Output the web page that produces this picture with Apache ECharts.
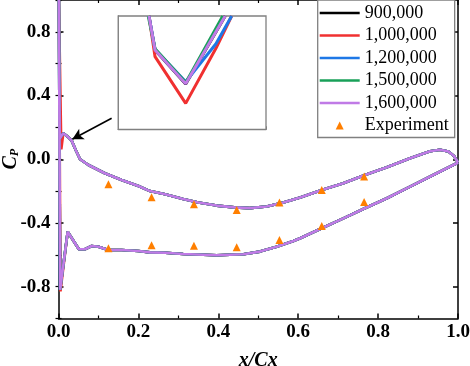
<!DOCTYPE html>
<html><head><meta charset="utf-8">
<script src="https://cdn.jsdelivr.net/npm/echarts@6/dist/echarts.min.js"></script>
<style>html,body{margin:0;padding:0;background:#fff}#c{width:470px;height:366px}</style>
</head><body><div id="c"></div>
<script>
const seriesNames = ['900,000', '1,000,000', '1,200,000', '1,500,000', '1,600,000'];
const expName = 'Experiment';
const seriesColors = ['#000000', '#F03030', '#1E78E6', '#18A058', '#C07AE6'];

// Main Cp curves (closed loop: pressure side TE->LE, then suction side LE->TE)
const upperX  = [1.0, 0.99, 0.976, 0.955, 0.93, 0.88, 0.822, 0.767, 0.713, 0.659, 0.605, 0.563, 0.521, 0.479, 0.44, 0.396, 0.35, 0.312, 0.267, 0.229, 0.2, 0.158, 0.116, 0.075, 0.054, 0.043, 0.033, 0.023, 0.012, 0.003, 0.001];
const upperCp = [-0.02, 0.02, 0.048, 0.06, 0.05, 0.006, -0.05, -0.099, -0.151, -0.193, -0.24, -0.272, -0.297, -0.307, -0.302, -0.291, -0.272, -0.25, -0.22, -0.2, -0.168, -0.13, -0.088, -0.036, 0.0, 0.058, 0.117, 0.142, 0.163, 0.13, 1.0];
const lowerX  = [0.004, 0.023, 0.051, 0.066, 0.083, 0.1, 0.125, 0.158, 0.2, 0.229, 0.267, 0.312, 0.396, 0.463, 0.504, 0.546, 0.588, 0.605, 0.659, 0.713, 0.767, 0.822, 0.88, 0.938, 0.997, 1.0];
const lowerCp = [-0.82, -0.455, -0.565, -0.565, -0.545, -0.549, -0.57, -0.57, -0.576, -0.585, -0.587, -0.595, -0.603, -0.597, -0.58, -0.549, -0.513, -0.496, -0.433, -0.371, -0.308, -0.245, -0.172, -0.099, -0.025, -0.02];
// 1,000,000 case differs slightly at the leading edge
const redLeX  = [0.007, 0.001, 0.005];
const redLeCp = [0.063, 1.0, -0.83];

// Experiment
const expX      = [0.125, 0.233, 0.339, 0.446, 0.553, 0.659, 0.765];
const expUpper  = [-0.157, -0.239, -0.283, -0.318, -0.272, -0.193, -0.109];
const expLower  = [-0.559, -0.54, -0.543, -0.553, -0.507, -0.419, -0.268];

// Inset (zoomed view, local units)
const insetBlackX = [1.66, 1.99, 3.65, 5.79];
const insetBlackY = [10, 7.0, 4.0, 10];
const insetRedX   = [1.66, 1.99, 3.65, 5.29, 6.14];
const insetRedY   = [10, 6.41, 2.29, 7.15, 10];
const insetBlueX  = [1.66, 1.99, 3.65, 5.29, 6.14];
const insetBlueY  = [10, 7.06, 4.2, 7.55, 10];
const insetGreenX = [1.62, 1.99, 3.65, 5.66];
const insetGreenY = [10, 7.1, 4.12, 10];
const insetPurpX  = [1.66, 1.99, 3.65, 5.79];
const insetPurpY  = [10, 7.0, 4.02, 10];

// Arrow annotation (data coords)
const arrowFrom = [0.133, 0.2575];
const arrowTo   = [0.0345, 0.126];

const xTicks = {min: 0, max: 1, interval: 0.2};
const yRange = {min: -1, max: 1, minorInterval: 0.2};
const yMajor = [-0.8, -0.4, 0.0, 0.4, 0.8];
const yLabels = ['-0.8', '-0.4', '0.0', '0.4', '0.8'];

function zip(xs, ys) { return xs.map((x, i) => [x, ys[i]]); }
const mainLoop = zip(upperX, upperCp).concat(zip(lowerX, lowerCp));
const redLoop = zip(upperX.slice(0, 29), upperCp.slice(0, 29))
  .concat(zip(redLeX, redLeCp))
  .concat(zip(lowerX.slice(1), lowerCp.slice(1)));
const loops = [mainLoop, redLoop, mainLoop, mainLoop, mainLoop];
const insets = [zip(insetBlackX, insetBlackY), zip(insetRedX, insetRedY), zip(insetBlueX, insetBlueY), zip(insetGreenX, insetGreenY), zip(insetPurpX, insetPurpY)];
const expData = zip(expX, expUpper).concat(zip(expX, expLower));

const FONT = 'Liberation Serif';
const axisLineStyle = {color: '#000', width: 1.5};
const series = [];
seriesNames.forEach((n, i) => {
  const s = {
    name: n, type: 'line', xAxisIndex: 0, yAxisIndex: 0,
    data: loops[i], symbol: 'none', showSymbol: false,
    lineStyle: {color: seriesColors[i], width: 2.6}, itemStyle: {color: seriesColors[i]},
    z: 3 + i, silent: true
  };
  if (i === 4) {
    s.markLine = {
      silent: true, symbol: ['none', 'arrow'], symbolSize: [9, 11],
      label: {show: false},
      lineStyle: {color: '#000', width: 1.6, type: 'solid'},
      data: [[{coord: arrowFrom}, {coord: arrowTo}]]
    };
  }
  series.push(s);
});
series.push({
  name: expName, type: 'line', xAxisIndex: 0, yAxisIndex: 0,
  data: expData, symbol: 'triangle', symbolSize: 8, showSymbol: true, showAllSymbol: true,
  lineStyle: {width: 0, opacity: 0}, itemStyle: {color: '#FF7F00'}, z: 10, silent: true
});
seriesNames.forEach((n, i) => {
  series.push({
    name: n, type: 'line', xAxisIndex: 2, yAxisIndex: 2,
    data: insets[i], symbol: 'none', showSymbol: false, clip: true,
    lineStyle: {color: seriesColors[i], width: 3}, z: 12 + i, silent: true
  });
});

const lineIcon = 'path://M0,0L40,0L40,2.6L0,2.6Z';
const legendData = seriesNames.map(n => ({name: n, icon: lineIcon})).concat([{name: expName}]);

function tickAxis(pos, grid, isX, lenMajor) {
  return {gridIndex: grid, type: 'value', position: pos,
    min: isX ? xTicks.min : yRange.min, max: isX ? xTicks.max : yRange.max,
    interval: isX ? xTicks.interval : yRange.minorInterval,
    axisLine: {show: false}, axisLabel: {show: false}, splitLine: {show: false},
    axisTick: {show: true, inside: true, length: lenMajor, lineStyle: {color: '#000', width: 1.2}}};
}

const chart = echarts.init(document.getElementById('c'), null, {renderer: 'canvas'});
chart.setOption({
  animation: false,
  backgroundColor: '#fff',
  textStyle: {fontFamily: FONT},
  grid: [
    {left: 58.5, right: 12, top: 0, bottom: 47.5, containLabel: false, outerBoundsMode: 'none'},
    {left: 118.3, top: 16, width: 147.7, height: 113.3, show: true, borderColor: '#808080', borderWidth: 1.3, backgroundColor: '#fff', z: 11, containLabel: false, outerBoundsMode: 'none'}
  ],
  legend: {
    data: legendData,
    orient: 'vertical', left: 317.7, top: 0,
    padding: [4, 6, 3, 2], itemGap: 4.5, itemWidth: 40, itemHeight: 10, itemTextGap: 6,
    borderColor: '#808080', borderWidth: 1.3, backgroundColor: '#fff',
    textStyle: {fontFamily: FONT, fontSize: 18, lineHeight: 18, color: '#000'},
    selectedMode: false, z: 20
  },
  xAxis: [
    {gridIndex: 0, type: 'value', position: 'bottom', min: xTicks.min, max: xTicks.max, interval: xTicks.interval,
     name: 'x/Cx', nameLocation: 'middle', nameGap: 32, nameMoveOverlap: false,
     nameTextStyle: {fontFamily: FONT, fontSize: 20, fontWeight: 'bold', fontStyle: 'italic', color: '#000'},
     axisLine: {show: true, onZero: false, lineStyle: axisLineStyle},
     axisTick: {show: true, inside: true, length: 5, lineStyle: axisLineStyle},
     minorTick: {show: true, splitNumber: 2, length: 3, lineStyle: {color: '#000', width: 1.2}},
     axisLabel: {fontFamily: FONT, fontSize: 19, fontWeight: 'bold', color: '#000', margin: 4, formatter: v => v.toFixed(1)},
     splitLine: {show: false}},
    {gridIndex: 0, type: 'value', position: 'top', min: xTicks.min, max: xTicks.max, interval: xTicks.interval,
     axisLine: {show: true, onZero: false, lineStyle: axisLineStyle},
     axisTick: {show: true, inside: true, length: 5, lineStyle: axisLineStyle},
     minorTick: {show: true, splitNumber: 2, length: 3, lineStyle: {color: '#000', width: 1.2}},
     axisLabel: {show: false}, splitLine: {show: false}},
    {gridIndex: 1, type: 'value', min: 0, max: 8, interval: 1,
     axisLine: {show: true, onZero: false, lineStyle: {color: '#808080', width: 1.3}},
     axisTick: {show: true, inside: true, length: 3, lineStyle: {color: '#808080', width: 1}},
     axisLabel: {show: false}, splitLine: {show: false}}
  ],
  yAxis: [
    {gridIndex: 0, type: 'value', position: 'left', min: yRange.min, max: yRange.max, interval: yRange.minorInterval,
     name: '{c|C}{p|P}', nameLocation: 'middle', nameGap: 38, nameRotate: 90, nameMoveOverlap: false,
     nameTextStyle: {color: '#000', rich: {
       c: {fontFamily: FONT, fontSize: 20, fontWeight: 'bold', fontStyle: 'italic', lineHeight: 22, verticalAlign: 'bottom'},
       p: {fontFamily: FONT, fontSize: 12, fontWeight: 'bold', fontStyle: 'italic', lineHeight: 16, verticalAlign: 'bottom'}
     }},
     axisLine: {show: true, onZero: false, lineStyle: axisLineStyle},
     axisTick: {show: true, inside: true, length: 5, lineStyle: axisLineStyle, customValues: yMajor},
     axisLabel: {fontFamily: FONT, fontSize: 19, fontWeight: 'bold', color: '#000', margin: 8,
       customValues: yMajor,
       formatter: v => yLabels[yMajor.findIndex(m => Math.abs(m - v) < 1e-6)] || ''},
     splitLine: {show: false}},
    {gridIndex: 0, type: 'value', position: 'right', min: yRange.min, max: yRange.max, interval: yRange.minorInterval,
     axisLine: {show: true, onZero: false, lineStyle: axisLineStyle},
     axisTick: {show: true, inside: true, length: 5, lineStyle: axisLineStyle, customValues: yMajor},
     axisLabel: {show: false}, splitLine: {show: false}},
    {gridIndex: 1, type: 'value', min: 0, max: 10, interval: 1,
     axisLine: {show: true, onZero: false, lineStyle: {color: '#808080', width: 1.3}},
     axisTick: {show: true, inside: true, length: 3, lineStyle: {color: '#808080', width: 1}},
     axisLabel: {show: false}, splitLine: {show: false}},
    tickAxis('left', 0, false, 3),
    tickAxis('right', 0, false, 3)
  ],
  series: series
});
</script></body></html>
